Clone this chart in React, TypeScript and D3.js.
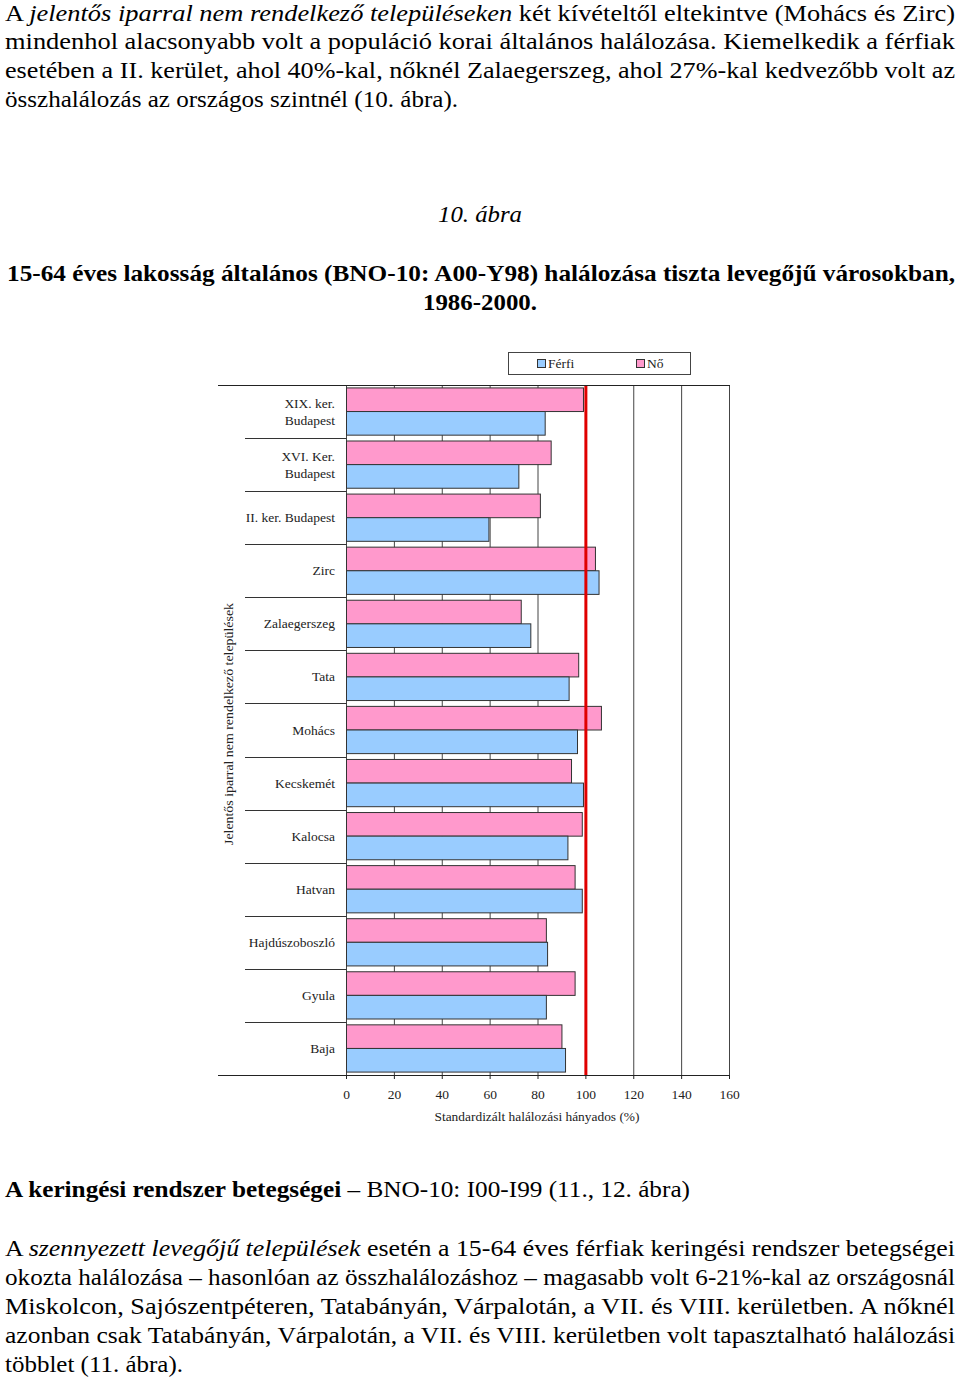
import React from 'react';
import * as d3 from 'd3';

// ---- data ----
const categories = [
  'XIX. ker.|Budapest',
  'XVI. Ker.|Budapest',
  'II. ker. Budapest',
  'Zirc',
  'Zalaegerszeg',
  'Tata',
  'Mohács',
  'Kecskemét',
  'Kalocsa',
  'Hatvan',
  'Hajdúszoboszló',
  'Gyula',
  'Baja',
];
const ferfiValues = [83, 72, 59.5, 105.5, 77, 93, 96.5, 99, 92.5, 98.5, 84, 83.5, 91.5];
const noValues = [99, 85.5, 81, 104, 73, 97, 106.5, 94, 98.5, 95.5, 83.5, 95.5, 90];
const xTicks = [0, 20, 40, 60, 80, 100, 120, 140, 160];
const seriesNames = ['Nő', 'Férfi'];
const legendNames = ['Férfi', 'Nő'];
const referenceValue = 100;

const COLORS: Record<string, string> = { 'Férfi': '#99CCFF', 'Nő': '#FF99CC' };

type Seg = { t: string; i?: boolean; b?: boolean };

const SERIF = '"Liberation Serif", "Times New Roman", serif';

function Line({ x, y, w, segs, size, anchor }: { x: number; y: number; w: number; segs: Seg[]; size: number; anchor?: string }) {
  return (
    <text x={x} y={y} fontSize={size} fontFamily={SERIF} textLength={w} lengthAdjust="spacingAndGlyphs" textAnchor={anchor || 'start'} fill="#000">
      {segs.map((s, k) => (
        <tspan key={k} fontStyle={s.i ? 'italic' : 'normal'} fontWeight={s.b ? 'bold' : 'normal'}>{s.t}</tspan>
      ))}
    </text>
  );
}

export default function App() {
  const W = 960, H = 1379;
  const x = d3.scaleLinear().domain([0, 160]).range([346.5, 729.5]);
  const y = d3.scaleBand<string>().domain(categories).range([385, 1075]).paddingInner(0.11).paddingOuter(0.055);
  const yi = d3.scaleBand<string>().domain(seriesNames).range([0, y.bandwidth()]);
  const step = y.step();
  const plotTop = 385, plotBottom = 1075;

  const bars: { cat: string; s: string; v: number }[] = [];
  categories.forEach((c, k) => {
    bars.push({ cat: c, s: 'Nő', v: noValues[k] });
    bars.push({ cat: c, s: 'Férfi', v: ferfiValues[k] });
  });

  const fs = 22.5;
  return (
    <svg width={W} height={H} style={{ position: 'absolute', left: 0, top: 0, background: '#fff' }}>
      <rect width={W} height={H} fill="#fff" />
      {/* top paragraph */}
      <Line x={5} y={20.5} w={950} size={fs} segs={[{ t: 'A ' }, { t: 'jelentős iparral nem rendelkező településeken', i: true }, { t: ' két kívételtől eltekintve (Mohács és Zirc)' }]} />
      <Line x={5} y={48.5} w={950} size={fs} segs={[{ t: 'mindenhol alacsonyabb volt a populáció korai általános halálozása. Kiemelkedik a férfiak' }]} />
      <Line x={5} y={77.5} w={950} size={fs} segs={[{ t: 'esetében a II. kerület, ahol 40%-kal, nőknél Zalaegerszeg, ahol 27%-kal kedvezőbb volt az' }]} />
      <Line x={5} y={106.5} w={453} size={fs} segs={[{ t: 'összhalálozás az országos szintnél (10. ábra).' }]} />

      <Line x={480} y={222} w={84} size={fs} anchor="middle" segs={[{ t: '10. ábra', i: true }]} />
      <Line x={7} y={281} w={948} size={fs} segs={[{ t: '15-64 éves lakosság általános (BNO-10: A00-Y98) halálozása tiszta levegőjű városokban,', b: true }]} />
      <Line x={480} y={310} w={114} size={fs} anchor="middle" segs={[{ t: '1986-2000.', b: true }]} />

      {/* legend */}
      <rect x={508.5} y={352.5} width={182} height={22} fill="#fff" stroke="#444" strokeWidth={1} />
      {legendNames.map((n, k) => {
        const lx = k === 0 ? 537 : 636;
        return (
          <g key={n}>
            <rect x={lx + 0.5} y={359.5} width={8} height={8} fill={COLORS[n]} stroke="#333" strokeWidth={1} />
            <text x={lx + 11} y={368} fontSize={13.5} fontFamily={SERIF} fill="#222">{n}</text>
          </g>
        );
      })}

      {/* gridlines */}
      {xTicks.map((t) => (
        <line key={'g' + t} x1={x(t)} x2={x(t)} y1={plotTop} y2={plotBottom} stroke="#444" strokeWidth={1} />
      ))}

      {/* bars */}
      {bars.map((b, k) => (
        <rect key={k} x={x(0)} y={(y(b.cat) as number) + (yi(b.s) as number)} width={x(b.v) - x(0)} height={yi.bandwidth()}
          fill={COLORS[b.s]} stroke="#333" strokeWidth={1} />
      ))}

      {/* reference line */}
      <line x1={x(referenceValue)} x2={x(referenceValue)} y1={plotTop} y2={plotBottom} stroke="#E00000" strokeWidth={3} />

      {/* top and bottom lines */}
      <line x1={218} x2={730} y1={plotTop + 0.5} y2={plotTop + 0.5} stroke="#222" strokeWidth={1} />
      <line x1={218} x2={730} y1={plotBottom + 0.5} y2={plotBottom + 0.5} stroke="#222" strokeWidth={1} />
      {/* category separators */}
      {categories.slice(1).map((c, k) => {
        const yy = plotTop + step * (k + 1);
        return <line key={'s' + k} x1={245} x2={x(0)} y1={Math.round(yy) + 0.5} y2={Math.round(yy) + 0.5} stroke="#333" strokeWidth={1} />;
      })}
      {/* x ticks */}
      {xTicks.map((t) => (
        <g key={'t' + t}>
          <line x1={x(t)} x2={x(t)} y1={plotBottom} y2={plotBottom + 4} stroke="#222" strokeWidth={1} />
          <text x={x(t)} y={1099} fontSize={13.5} fontFamily={SERIF} textAnchor="middle" fill="#222">{t}</text>
        </g>
      ))}
      <text x={537} y={1121} fontSize={13} fontFamily={SERIF} textAnchor="middle" fill="#222" textLength={205} lengthAdjust="spacingAndGlyphs">Standardizált halálozási hányados (%)</text>

      {/* category labels */}
      {categories.map((c) => {
        const parts = c.split('|');
        const cy = (y(c) as number) + y.bandwidth() / 2;
        return (
          <text key={'l' + c} x={335} fontSize={13.5} fontFamily={SERIF} textAnchor="end" fill="#222">
            {parts.map((p, k) => (
              <tspan key={k} x={335} y={cy + 4.5 + (k - (parts.length - 1) / 2) * 17}>{p}</tspan>
            ))}
          </text>
        );
      })}
      <text transform="translate(233,724) rotate(-90)" fontSize={12.5} fontFamily={SERIF} textAnchor="middle" fill="#222" textLength={242} lengthAdjust="spacingAndGlyphs">Jelentős iparral nem rendelkező települések</text>

      {/* bottom text */}
      <Line x={5} y={1197} w={685} size={fs} segs={[{ t: 'A keringési rendszer betegségei', b: true }, { t: ' – BNO-10: I00-I99 (11., 12. ábra)' }]} />
      <Line x={5} y={1256} w={950} size={fs} segs={[{ t: 'A ' }, { t: 'szennyezett levegőjű települések', i: true }, { t: ' esetén a 15-64 éves férfiak keringési rendszer betegségei' }]} />
      <Line x={5} y={1285} w={950} size={fs} segs={[{ t: 'okozta halálozása – hasonlóan az összhalálozáshoz – magasabb volt 6-21%-kal az országosnál' }]} />
      <Line x={5} y={1314} w={950} size={fs} segs={[{ t: 'Miskolcon, Sajószentpéteren, Tatabányán, Várpalotán, a VII. és VIII. kerületben. A nőknél' }]} />
      <Line x={5} y={1343} w={950} size={fs} segs={[{ t: 'azonban csak Tatabányán, Várpalotán, a VII. és VIII. kerületben volt tapasztalható halálozási' }]} />
      <Line x={5} y={1372} w={178} size={fs} segs={[{ t: 'többlet (11. ábra).' }]} />
    </svg>
  );
}
